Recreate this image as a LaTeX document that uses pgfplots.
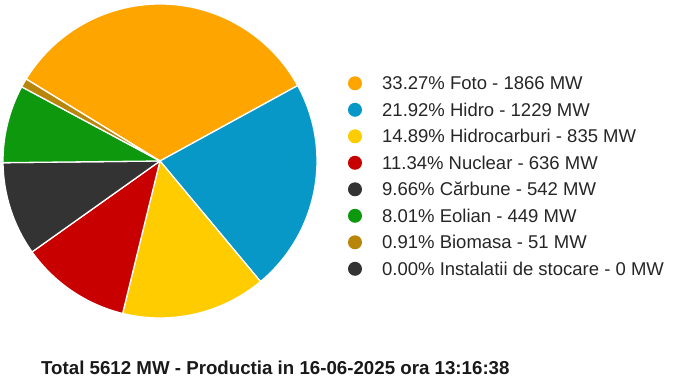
\documentclass[border=0pt]{standalone}
\usepackage{pgfplots}
\pgfplotsset{compat=1.18}
\usepackage{pgfplotstable}
\usepackage{fontspec}
\setmainfont{Liberation Sans}
\definecolor{cFoto}{HTML}{FFA500}
\definecolor{cHidro}{HTML}{0898C8}
\definecolor{cHidrocarburi}{HTML}{FFCC00}
\definecolor{cNuclear}{HTML}{C80000}
\definecolor{cCarbune}{HTML}{333333}
\definecolor{cEolian}{HTML}{0E980E}
\definecolor{cBiomasa}{HTML}{B8860B}
\definecolor{cStocare}{HTML}{333333}
\pgfplotstableread{
name value color label
Foto 1866 cFoto {33.27\% Foto - 1866 MW}
Hidro 1229 cHidro {21.92\% Hidro - 1229 MW}
Hidrocarburi 835 cHidrocarburi {14.89\% Hidrocarburi - 835 MW}
Nuclear 636 cNuclear {11.34\% Nuclear - 636 MW}
Carbune 542 cCarbune {9.66\% Cărbune - 542 MW}
Eolian 449 cEolian {8.01\% Eolian - 449 MW}
Biomasa 51 cBiomasa {0.91\% Biomasa - 51 MW}
Stocare 0 cStocare {0.00\% Instalatii de stocare - 0 MW}
}\piedata
\begin{document}
\begin{tikzpicture}
\useasboundingbox (0pt,0pt) rectangle (680pt,386pt);
\gdef\cum{148.5}
\gdef\tot{5608}
\pgfplotsforeachungrouped \i in {0,...,7} {%
  \pgfplotstablegetelem{\i}{value}\of\piedata \let\v\pgfplotsretval
  \pgfplotstablegetelem{\i}{color}\of\piedata \let\c\pgfplotsretval
  \pgfmathsetmacro\e{\cum - \v/\tot*360}%
  \expandafter\xdef\csname sA\i\endcsname{\cum}%
  \expandafter\xdef\csname eA\i\endcsname{\e}%
  \expandafter\xdef\csname col\i\endcsname{\c}%
  \xdef\cum{\e}%
}
\begin{axis}[at={(3pt,68pt)}, anchor=south west, scale only axis,
  width=314pt, height=314pt, xmin=-1, xmax=1, ymin=-1, ymax=1,
  hide axis, clip=false]
\pgfplotsinvokeforeach{0,...,6}{%
  \edef\temp{\noexpand\fill[\csname col#1\endcsname, draw=white, line width=1.3pt, line join=round]
    (axis cs:0,0) -- (axis cs:{cos(\csname sA#1\endcsname)},{sin(\csname sA#1\endcsname)})
    arc[start angle=\csname sA#1\endcsname, end angle=\csname eA#1\endcsname, radius=1] -- cycle;}%
  \temp
}
\end{axis}
% legend
\pgfplotsforeachungrouped \i in {0,...,7} {%
  \pgfplotstablegetelem{\i}{color}\of\piedata \let\c\pgfplotsretval
  \pgfplotstablegetelem{\i}{label}\of\piedata \let\l\pgfplotsretval
  \pgfmathsetmacro\yy{386-(83.3+26.5*\i)}%
  \fill[\c] (355pt,\yy pt) circle (7pt);
  \node[anchor=base west, inner sep=0pt, font=\fontsize{18.5}{20}\selectfont, text=black!85] at (382pt,\yy pt-6.6pt) {\l};
}
\node[anchor=base west, inner sep=0pt, font=\fontsize{18.7}{21}\selectfont\bfseries, text=black!90] at (41pt,11.4pt) {Total 5612 MW - Productia in 16-06-2025 ora 13:16:38};
\end{tikzpicture}
\end{document}
